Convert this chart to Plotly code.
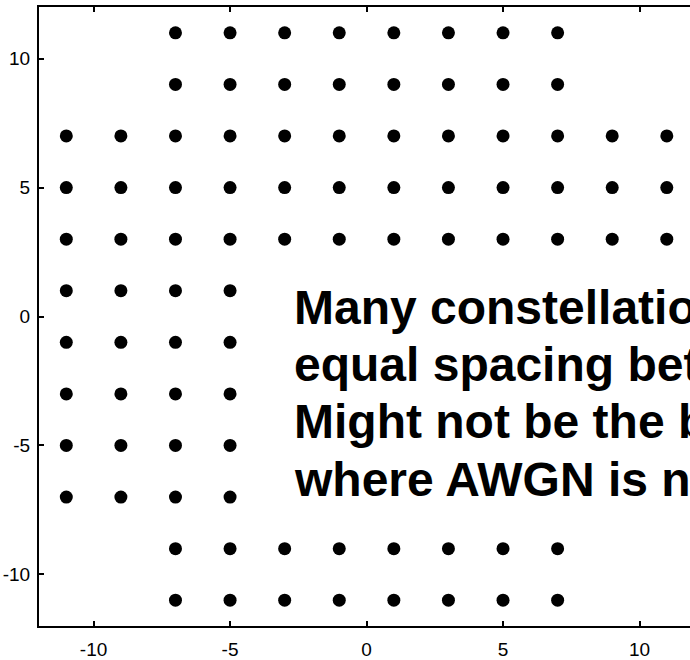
import plotly.graph_objects as go

# Constellation rows (I/Q levels) as seen in the picture
rows_top = [11, 9]
x_top = [-7, -5, -3, -1, 1, 3, 5, 7]
rows_full = [7, 5, 3]
x_full = [-11, -9, -7, -5, -3, -1, 1, 3, 5, 7, 9, 11]
rows_left = [1, -1, -3, -5, -7]
x_left = [-11, -9, -7, -5]
rows_bottom = [-9, -11]
x_bottom = [-7, -5, -3, -1, 1, 3, 5, 7]

x_ticks = [-10, -5, 0, 5, 10]
y_ticks = [-10, -5, 0, 5, 10]

# Overlay text, as far as it is visible in the (cropped) picture
text_lines = [
    "Many constellatio",
    "equal spacing bet",
    "Might not be the b",
    "where AWGN is n",
]

xs, ys = [], []
for rows, xv in [(rows_top, x_top), (rows_full, x_full), (rows_left, x_left), (rows_bottom, x_bottom)]:
    for r in rows:
        for v in xv:
            xs.append(v)
            ys.append(r)

fig = go.Figure()
fig.add_trace(go.Scatter(
    x=xs, y=ys, mode="markers",
    marker=dict(color="black", size=13, line=dict(width=0)),
    showlegend=False, hoverinfo="skip",
))

axis_common = dict(
    showgrid=False, zeroline=False, showline=True, linecolor="black", linewidth=2,
    ticks="inside", ticklen=5, tickwidth=1.5, tickcolor="black",
    tickfont=dict(family="Liberation Sans, Arial", size=19, color="black"),
)
fig.update_xaxes(range=[-12, 11.85], tickvals=x_ticks, ticktext=[str(t) for t in x_ticks],
                 mirror="ticks", ticklabelstandoff=5, **axis_common)
fig.update_yaxes(range=[-12, 12], tickvals=y_ticks, ticktext=[str(t) for t in y_ticks],
                 mirror=False, ticklabelstandoff=3, **axis_common)

baselines_px = [325, 383, 440, 498]
for line, b in zip(text_lines, baselines_px):
    fig.add_annotation(
        text="<b>" + line + "</b>", xref="paper", yref="paper",
        x=(292 - 39) / 651, y=(628 - (b - 17)) / 621,
        xanchor="left", yanchor="middle", showarrow=False,
        font=dict(family="Liberation Sans, Arial", size=48, color="black"),
    )

fig.update_layout(
    width=690, height=660,
    margin=dict(l=39, r=0, t=7, b=32),
    paper_bgcolor="white", plot_bgcolor="white",
)
fig.write_html(
    "out.html",
    config={"displayModeBar": False},
    post_script="document.body.style.margin='0';document.body.style.overflow='hidden';",
)
